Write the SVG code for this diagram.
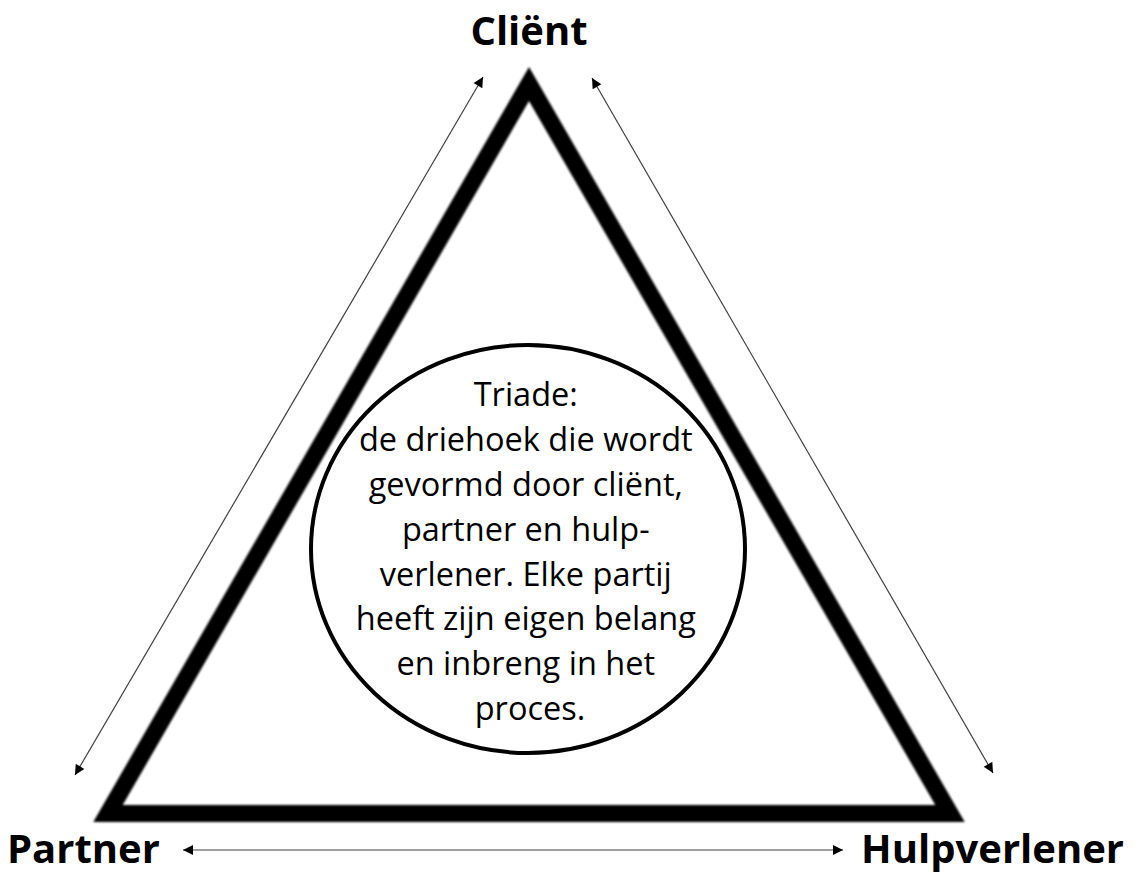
<svg xmlns="http://www.w3.org/2000/svg" width="1136" height="873" viewBox="0 0 1136 873">
  <style>
    .label { font-family: "Open Sans", "Liberation Sans", sans-serif; font-weight: bold; font-size: 40px; fill: #000; }
    .body { font-family: "Open Sans", "Liberation Sans", sans-serif; font-size: 32.5px; fill: #000; text-anchor: middle; }
    .conn { stroke: #404040; stroke-width: 1.2; fill: none; marker-start: url(#ah); marker-end: url(#ah); }
  </style>
  <defs>
    <marker id="ah" viewBox="0 0 10 10" refX="10" refY="5" markerWidth="12" markerHeight="10" markerUnits="userSpaceOnUse" orient="auto-start-reverse">
      <path d="M0,0 L10,5 L0,10 Z" fill="#000"/>
    </marker>
    <filter id="soft" x="-5%" y="-5%" width="110%" height="110%">
      <feGaussianBlur stdDeviation="1.1"/>
    </filter>
  </defs>
  <rect width="1136" height="873" fill="#fff"/>
  <g id="triangle">
    <polygon points="529,84 950,813.5 108,813.5" fill="none" stroke="#000" stroke-width="17" stroke-linejoin="miter" stroke-miterlimit="10" filter="url(#soft)"/>
  </g>
  <g id="connectors">
    <line class="conn" x1="75" y1="775" x2="483" y2="77"/>
    <line class="conn" x1="592" y1="78" x2="993" y2="773"/>
    <line class="conn" x1="183" y1="850" x2="843" y2="850"/>
  </g>
  <g id="center">
    <ellipse cx="528" cy="549" rx="217" ry="204" fill="#fff" stroke="#000" stroke-width="4"/>
    <text class="body">
      <tspan x="530" y="406">Triade:</tspan>
      <tspan x="530" y="451">de driehoek die wordt</tspan>
      <tspan x="530" y="496">gevormd door cliënt,</tspan>
      <tspan x="530" y="541">partner en hulp-</tspan>
      <tspan x="530" y="586">verlener. Elke partij</tspan>
      <tspan x="530" y="630">heeft zijn eigen belang</tspan>
      <tspan x="530" y="675">en inbreng in het</tspan>
      <tspan x="530" y="720">proces.</tspan>
    </text>
  </g>
  <g id="client">
    <text class="label" x="529" y="45" text-anchor="middle">Cliënt</text>
  </g>
  <g id="partner">
    <text class="label" x="7" y="863">Partner</text>
  </g>
  <g id="hulpverlener">
    <text class="label" x="1124" y="863" text-anchor="end">Hulpverlener</text>
  </g>
</svg>
